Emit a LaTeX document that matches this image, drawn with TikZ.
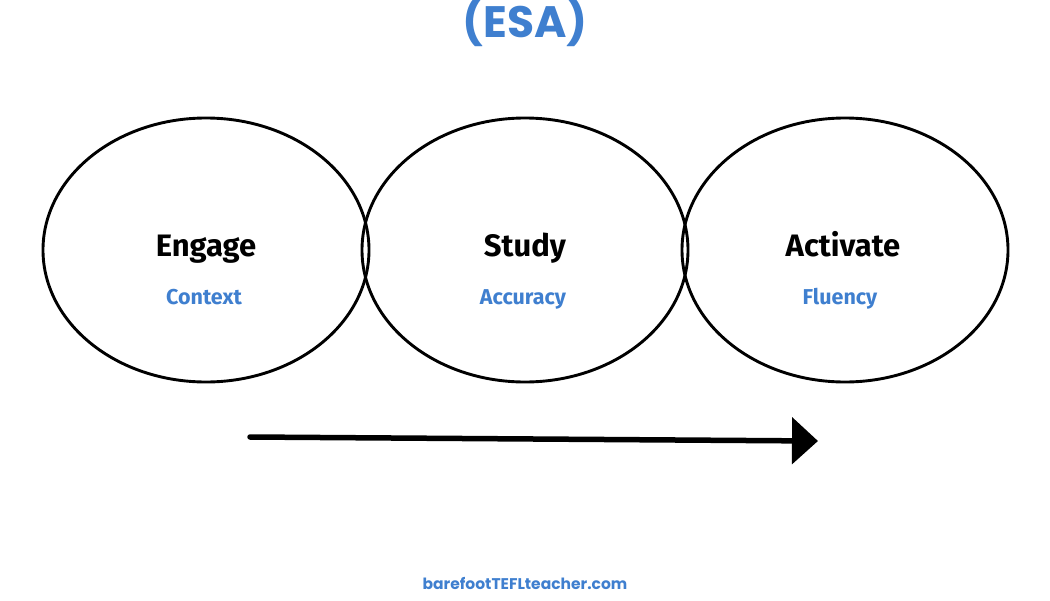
\documentclass[tikz,border=0pt]{standalone}
\usepackage{fontspec}
\setmainfont{Poppins}
\newfontfamily\hand{Fira Sans}
\definecolor{esablue}{HTML}{3F7FCF}
\tikzset{
  stage/.style={draw=black, line width=2.9pt, ellipse, minimum width=326pt, minimum height=264pt},
  lbl/.style={font=\hand\bfseries\fontsize{31}{34}\selectfont, text=black, anchor=base},
  sub/.style={font=\hand\bfseries\fontsize{21.5}{26}\selectfont, text=esablue, anchor=base},
}
\usetikzlibrary{shapes.geometric,arrows.meta}
\begin{document}
\begin{tikzpicture}[x=1pt,y=-1pt]
\useasboundingbox (0,0) rectangle (1050,600);
\node[font=\bfseries\fontsize{44}{48}\selectfont, text=esablue] (title) at (525,22) {(ESA)};
\node[stage] (e) at (206,250) {};
\node[stage] (s) at (525,250) {};
\node[stage] (a) at (845,250) {};
\node[lbl] (el) at (206,256) {Engage};
\node[lbl] (sl) at (525,256) {Study};
\node[lbl] (al) at (843,256) {Activate};
\node[sub] (es) at (204,304) {Context};
\node[sub] (ss) at (523,304) {Accuracy};
\node[sub] (as) at (840,304) {Fluency};
\coordinate (arrS) at (250,437);
\coordinate (arrE) at (818,441);
\draw[line width=5.5pt, line cap=round, -{Triangle[length=26pt,width=46pt]}] (arrS) -- (arrE);
\node[font=\bfseries\fontsize{15.5}{18}\selectfont, text=esablue] (foot) at (525,583) {barefootTEFLteacher.com};
\end{tikzpicture}
\end{document}
